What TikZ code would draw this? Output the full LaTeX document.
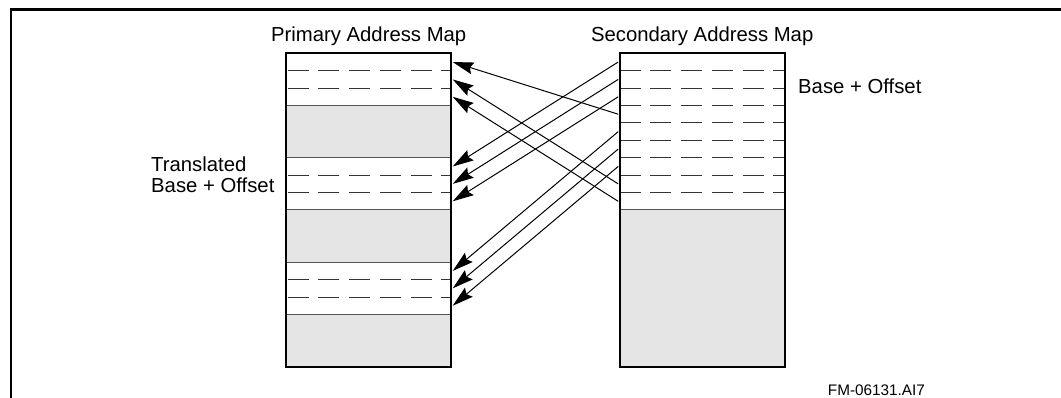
\documentclass[tikz,border=0pt]{standalone}
\usepackage{fontspec}
\setmainfont{Liberation Sans}
\definecolor{MapGray}{RGB}{229, 229, 229}
\definecolor{RuleGray}{RGB}{85, 85, 85}
\usetikzlibrary{arrows.meta, positioning}

\begin{document}
\begin{tikzpicture}[
        x=1pt, y=-1pt,
        font=\fontsize{20.3}{21}\selectfont,
        mapbox/.style={rectangle, draw, line width=2.2pt, minimum width=165pt, minimum height=313.4pt, inner sep=0pt},
        cell/.style={rectangle, minimum width=167.6pt, minimum height=17.41pt, inner sep=0pt},
        title/.style={inner sep=0pt},
        solidrule/.style={draw=RuleGray, line width=1pt},
        dashrule/.style={draw=black!80, line width=1pt, dash pattern=on 21pt off 9.7pt},
        line/.style={draw, line width=1pt, -{Stealth[length=21pt, width=12pt, inset=3pt]}},
        frameline/.style={draw, line width=2.5pt}
    ]
        \useasboundingbox (0,0) rectangle (1061,398);
        \draw[frameline] (11.2,398) -- (11.2,9.5) -- (1061,9.5);

        % shaded blocks
        \foreach \r in {3,9,15}
            \fill[MapGray] (286.2,{53.3+\r*17.41}) rectangle (451.2,{53.3+(\r+3)*17.41});
        \fill[MapGray] (619.7,{53.3+9*17.41}) rectangle (784.7,366.7);

        % rules
        \foreach \r in {3,6,9,12,15}
            \draw[solidrule] (286.2,{53.3+\r*17.41}) -- (451.2,{53.3+\r*17.41});
        \draw[solidrule] (619.7,{53.3+9*17.41}) -- (784.7,{53.3+9*17.41});
        \foreach \r in {1,2,7,8,13,14}
            \draw[dashrule, dash phase=11pt] (451.2,{53.3+\r*17.41}) -- (286.2,{53.3+\r*17.41});
        \foreach \r in {1,...,8}
            \draw[dashrule] (619.7,{53.3+\r*17.41}) -- (784.7,{53.3+\r*17.41});

        \node [mapbox] (prim) at (368.7,210) {};
        \node [mapbox] (sec) at (702.2,210) {};
        \foreach \r in {0,...,17}
            \node [cell] (p\r) at (368.7,{53.3+(\r+0.5)*17.41}) {};
        \foreach \r in {0,...,8}
            \node [cell] (s\r) at (702.2,{53.3+(\r+0.5)*17.41}) {};

        \node [title, above=6pt of prim] (primtitle) {Primary Address Map};
        \node [title, above=6pt of sec] (sectitle) {Secondary Address Map};
        \node [title, anchor=base west] (seclabel) at (798,94) {Base + Offset};
        \node [title, align=left, anchor=north west] (primlabel) at (151,157) {Translated\\Base + Offset};
        \node [title, anchor=base west, font=\fontsize{15.3}{18}\selectfont] (figid) at (827.7,395) {FM-06131.AI7};

        \foreach \a/\b in {s0/p6, s1/p7, s2/p8, s3/p0, s4/p12, s5/p13, s6/p14, s7/p1, s8/p2}
            \path [line] (\a.west) -- (\b.east);
    \end{tikzpicture}
\end{document}
